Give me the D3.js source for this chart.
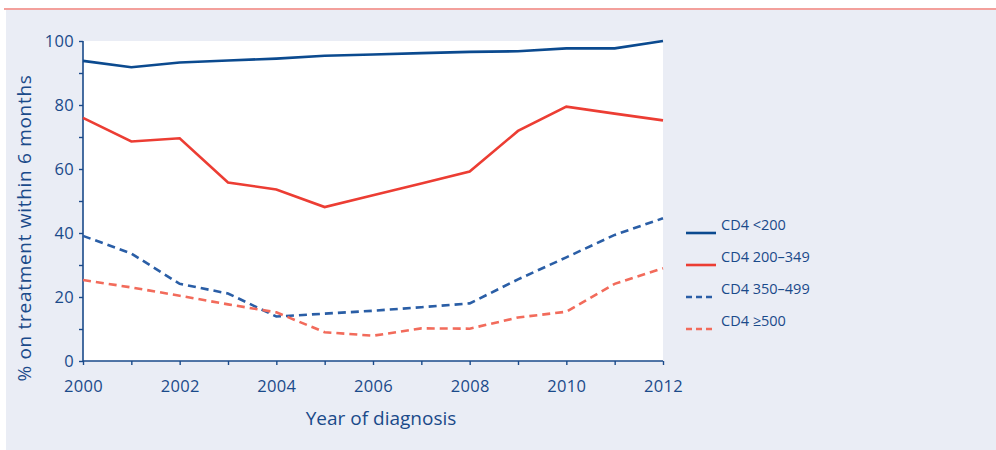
<!DOCTYPE html>
<html>
<head>
<meta charset="utf-8">
<script src="https://cdn.jsdelivr.net/npm/d3@7"></script>
<style>
  body { margin: 0; background: #fff; }
  text { font-family: "Open Sans", "Noto Sans", sans-serif; fill: #1a4a8a; }
</style>
</head>
<body>
<div class="chart"></div>
<script>
// data
var years = [2000, 2001, 2002, 2003, 2004, 2005, 2006, 2007, 2008, 2009, 2010, 2011, 2012];
var cd4Under200 = [93.8, 91.8, 93.3, 93.9, 94.5, 95.4, 95.8, 96.2, 96.6, 96.8, 97.7, 97.7, 100];
var cd4_200_349 = [76.0, 68.6, 69.6, 55.8, 53.6, 48.1, 51.8, 55.5, 59.2, 71.9, 79.5, 77.3, 75.2];
var cd4_350_499 = [39.1, 33.6, 24.1, 21.1, 13.9, 14.8, 15.7, 16.8, 18.0, 25.5, 32.4, 39.4, 44.6];
var cd4Over500 = [25.3, 23.0, 20.4, 17.7, 15.2, 9.0, 7.9, 10.2, 10.1, 13.6, 15.4, 24.1, 29.0];
var seriesNames = ["CD4 <200", "CD4 200\u2013349", "CD4 350\u2013499", "CD4 \u2265500"];
var yTickLabels = [0, 20, 40, 60, 80, 100];
var xTickLabels = [2000, 2002, 2004, 2006, 2008, 2010, 2012];

var svgWidth = 996;
var svgHeight = 450;
var margin = { top: 41, right: 333, bottom: 89, left: 83 };
var chartWidth = svgWidth - margin.left - margin.right;
var chartHeight = svgHeight - margin.top - margin.bottom;

var axisColor = "#1a4a8a";

var svg = d3.select(".chart")
  .append("svg")
  .attr("width", svgWidth)
  .attr("height", svgHeight);

// panel background and top rule
svg.append("rect")
  .attr("x", 6).attr("y", 10)
  .attr("width", svgWidth - 6).attr("height", svgHeight - 10)
  .attr("fill", "#eaedf5");
svg.append("line")
  .attr("x1", 4).attr("x2", svgWidth)
  .attr("y1", 9).attr("y2", 9)
  .attr("stroke", "#e8433a").attr("stroke-width", 1.2);

var chartGroup = svg.append("g")
  .attr("transform", `translate(${margin.left}, ${margin.top})`);

chartGroup.append("rect")
  .attr("width", chartWidth).attr("height", chartHeight)
  .attr("fill", "#fff");

var xScale = d3.scaleLinear().domain([2000, 2012]).range([0, chartWidth]);
var yScale = d3.scaleLinear().domain([0, 100]).range([chartHeight, 0]);

// x axis: tick every year, label every second year
var xAxis = chartGroup.append("g")
  .attr("transform", `translate(0, ${chartHeight})`)
  .call(d3.axisBottom(xScale)
    .tickValues(years)
    .tickSize(4)
    .tickFormat(d => xTickLabels.includes(d) ? d : ""));

// y axis: tick every 10, label every 20
var yAxis = chartGroup.append("g")
  .call(d3.axisLeft(yScale)
    .tickValues(d3.range(0, 101, 10))
    .tickSize(4)
    .tickFormat(d => yTickLabels.includes(d) ? d : ""));

[xAxis, yAxis].forEach(function(ax) {
  ax.select(".domain").attr("stroke", axisColor).attr("stroke-width", 1.6);
  ax.selectAll(".tick line").attr("stroke", axisColor).attr("stroke-width", 1.4);
  ax.selectAll(".tick text")
    .attr("font-size", 16.5)
    .style("font-family", "'Open Sans', sans-serif")
    .style("letter-spacing", "0.3px")
    .attr("fill", axisColor);
});
xAxis.selectAll(".tick text").attr("dy", "1.45em");
yAxis.selectAll(".tick text").attr("x", -9);
yAxis.select(".domain").attr("d", `M0,${chartHeight}V0`);
xAxis.select(".domain").attr("d", `M0,0H${chartWidth}`);

// lines
var seriesData = [cd4Under200, cd4_200_349, cd4_350_499, cd4Over500];
var colors = ["#0b4a8f", "#ec3d33", "#2a5ea6", "#f26b5b"];
var dashes = [null, null, "8,5", "8,5"];

var line = d3.line()
  .x((d, i) => xScale(years[i]))
  .y(d => yScale(d));

seriesData.forEach(function(values, i) {
  chartGroup.append("path")
    .datum(values)
    .attr("fill", "none")
    .attr("stroke", colors[i])
    .attr("stroke-width", 2.6)
    .attr("stroke-dasharray", dashes[i])
    .attr("d", line);
});

// axis titles
chartGroup.append("text")
  .attr("x", 298)
  .attr("y", chartHeight + 64)
  .attr("text-anchor", "middle")
  .attr("font-size", 19)
  .text("Year of diagnosis");

chartGroup.append("text")
  .attr("transform", `translate(-52, 187) rotate(-90)`)
  .attr("text-anchor", "middle")
  .attr("font-size", 19)
  .style("letter-spacing", "0.7px")
  .text("% on treatment within 6 months");

// legend
var legend = svg.append("g").attr("transform", "translate(686, 233)");
seriesNames.forEach(function(name, i) {
  var row = legend.append("g").attr("transform", `translate(0, ${i * 32})`);
  row.append("line")
    .attr("x1", 0).attr("x2", 30)
    .attr("stroke", colors[i])
    .attr("stroke-width", 2.6)
    .attr("stroke-dasharray", dashes[i] ? "6,4" : null);
  row.append("text")
    .attr("x", 35)
    .attr("y", -3)
    .attr("font-size", 14.5)
    .text(name);
});
</script>
</body>
</html>
